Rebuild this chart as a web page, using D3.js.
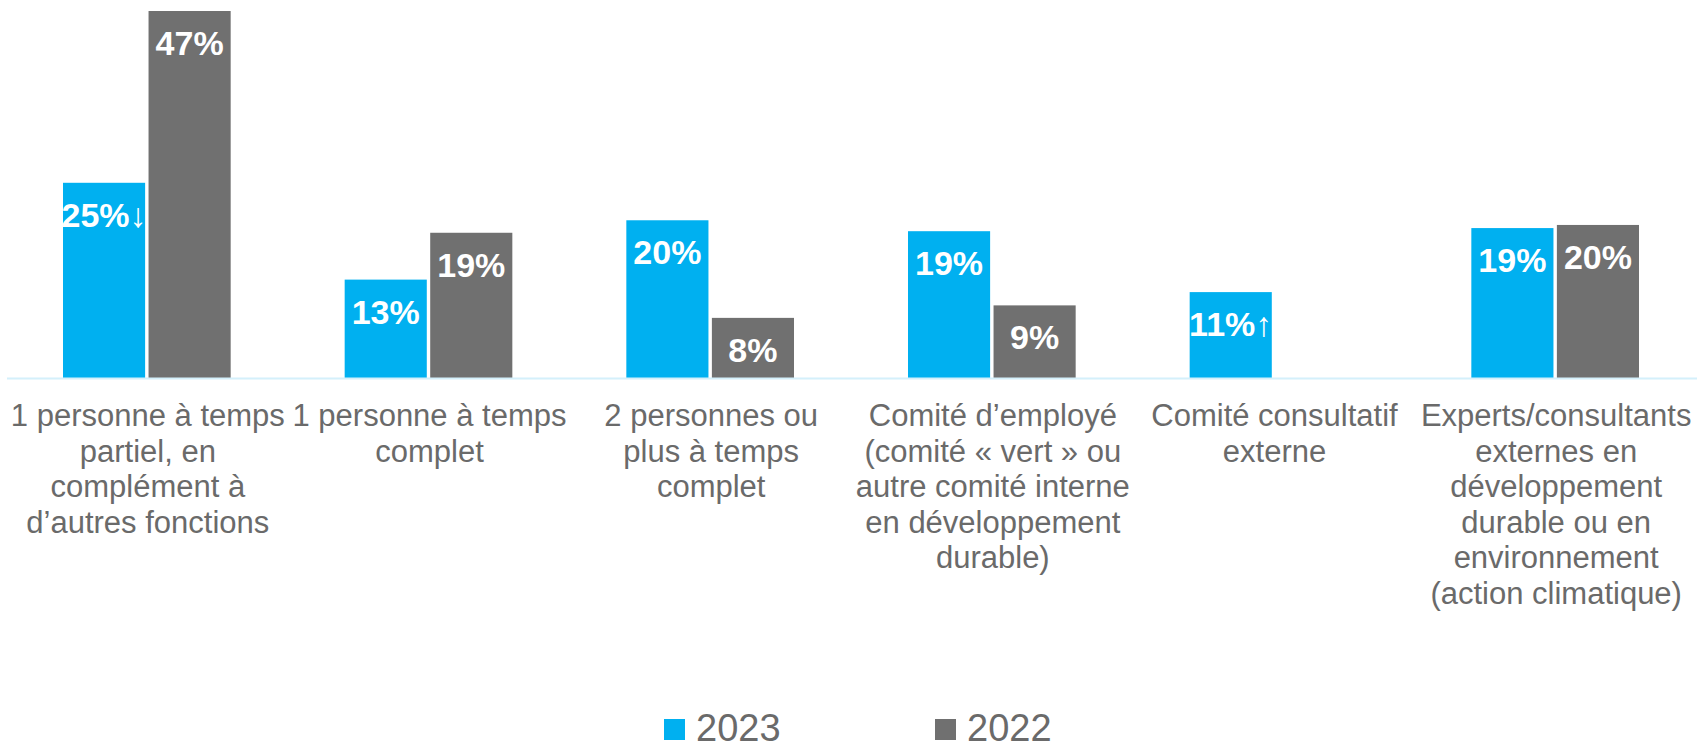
<!DOCTYPE html>
<html>
<head>
<meta charset="utf-8">
<script src="https://cdn.jsdelivr.net/npm/d3@7"></script>
<style>
  body { margin: 0; background: #fff; }
  text { font-family: "Liberation Sans", Arial, sans-serif; }
</style>
</head>
<body>
<script>
const width = 1702,
    height = 749;

// data (bar heights, labels are the rounded %)
const categories = [
  "1 personne à temps\npartiel, en\ncomplément à\nd’autres fonctions",
  "1 personne à temps\ncomplet",
  "2 personnes ou\nplus à temps\ncomplet",
  "Comité d’employé\n(comité « vert » ou\nautre comité interne\nen développement\ndurable)",
  "Comité consultatif\nexterne",
  "Experts/consultants\nexternes en\ndéveloppement\ndurable ou en\nenvironnement\n(action climatique)"
];
const seriesNames = ["2023", "2022"];
const values2023 = [0.25, 0.126, 0.202, 0.188, 0.11, 0.192];
const values2022 = [0.47, 0.186, 0.077, 0.093, null, 0.196];
const arrows2023 = ["↓", "", "", "", "↑", ""];
const colors = ["#00B0F0", "#707070"];

const svg = d3.select("body").append("svg")
    .attr("width", width)
    .attr("height", height);

const x0 = d3.scaleBand()
    .domain(d3.range(categories.length))
    .range([7, 1697])
    .paddingInner(0)
    .paddingOuter(0);

const x1 = d3.scaleBand()
    .domain(seriesNames)
    .range([56, x0.bandwidth() - 58])
    .paddingInner(0.04);

const y = d3.scaleLinear()
    .domain([0, 0.47])
    .range([378, 11]);

const rows = categories.map((c, i) => ({
  i: i,
  bars: [
    { s: "2023", v: values2023[i], arrow: arrows2023[i] },
    { s: "2022", v: values2022[i], arrow: "" }
  ].filter(d => d.v != null)
}));

const groups = svg.append("g").selectAll("g")
    .data(rows)
    .enter().append("g")
    .attr("transform", d => "translate(" + x0(d.i) + ",0)");

groups.selectAll("rect")
    .data(d => d.bars)
    .enter().append("rect")
    .attr("x", d => x1(d.s))
    .attr("y", d => y(d.v))
    .attr("width", x1.bandwidth())
    .attr("height", d => y(0) - y(d.v))
    .attr("fill", d => colors[seriesNames.indexOf(d.s)]);

const lbl = groups.selectAll("text.val")
    .data(d => d.bars)
    .enter().append("text")
    .attr("class", "val")
    .attr("x", d => x1(d.s) + x1.bandwidth() / 2)
    .attr("y", d => y(d.v) + 44)
    .attr("text-anchor", "middle")
    .attr("fill", "#fff")
    .style("font-size", "34px")
    .style("font-weight", "bold");
lbl.append("tspan").text(d => Math.round(d.v * 100) + "%");
lbl.append("tspan").style("font-weight", "normal").text(d => d.arrow);

// axis line
svg.append("line")
    .attr("x1", x0.range()[0]).attr("x2", x0.range()[1])
    .attr("y1", y(0) + 0.5).attr("y2", y(0) + 0.5)
    .attr("stroke", "#d4f0fb")
    .attr("stroke-width", 2);

// category labels
const cat = svg.append("g").selectAll("text")
    .data(categories)
    .enter().append("text")
    .attr("x", (d, i) => x0(i) + x0.bandwidth() / 2)
    .attr("y", 426)
    .attr("text-anchor", "middle")
    .attr("fill", "#6a6a6a")
    .style("font-size", "31px");
cat.selectAll("tspan")
    .data(d => d.split("\n"))
    .enter().append("tspan")
    .attr("x", function() { return this.parentNode.getAttribute("x"); })
    .attr("dy", (d, i) => i === 0 ? 0 : 35.5)
    .text(d => d);

// legend
const legendX = [664, 935];
const legend = svg.append("g").selectAll("g")
    .data(seriesNames)
    .enter().append("g")
    .attr("transform", (d, i) => "translate(" + legendX[i] + ",0)");
legend.append("rect")
    .attr("x", 0).attr("y", 719)
    .attr("width", 21).attr("height", 21)
    .attr("fill", (d, i) => colors[i]);
legend.append("text")
    .attr("x", 32).attr("y", 741)
    .attr("fill", "#6a6a6a")
    .style("font-size", "38px")
    .text(d => d);
</script>
</body>
</html>
